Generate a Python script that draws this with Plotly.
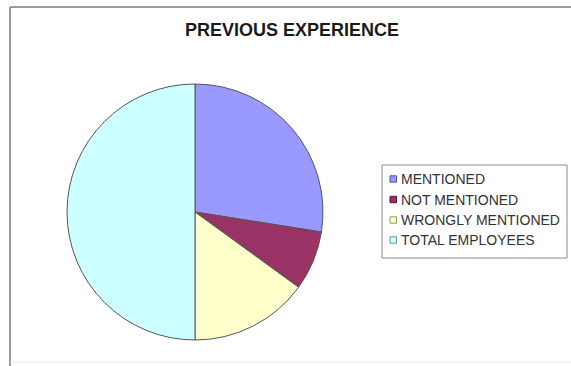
import plotly.graph_objects as go

labels = ["MENTIONED", "NOT MENTIONED", "WRONGLY MENTIONED", "TOTAL EMPLOYEES"]
values = [55, 15, 30, 100]
colors = ["#9999FF", "#993366", "#FFFFCC", "#CCFFFF"]
swatch_edges = ["#555599", "#551133", "#999966", "#669999"]

W, H = 571, 366
FONT = "Arial, Liberation Sans, sans-serif"


def px_x(x):
    return x / W


def px_y(y):
    return 1 - y / H


fig = go.Figure(
    go.Pie(
        labels=labels,
        values=values,
        sort=False,
        direction="clockwise",
        rotation=0,
        textinfo="none",
        hoverinfo="label+value+percent",
        showlegend=False,
        marker=dict(colors=colors, line=dict(color="#555555", width=1)),
        domain=dict(x=[px_x(67), px_x(323)], y=[px_y(340), px_y(84)]),
    )
)


def frame_line(x0, y0, x1, y1, color, width):
    return dict(
        type="line", xref="paper", yref="paper",
        x0=px_x(x0), y0=px_y(y0), x1=px_x(x1), y1=px_y(y1),
        line=dict(color=color, width=width), layer="below",
    )


shapes = [
    # chart area frame: left, top, faint bottom
    frame_line(10, 7, 10, 366, "#9a9a9a", 2),
    frame_line(10, 7, 571, 7, "#9a9a9a", 2),
    frame_line(10, 362, 571, 362, "#e6e6e6", 1),
    # legend box
    dict(
        type="rect", xref="paper", yref="paper",
        x0=px_x(382), x1=px_x(567), y0=px_y(258), y1=px_y(165),
        line=dict(color="#8a8a8a", width=1), fillcolor="white", layer="below",
    ),
]
annotations = []

# legend entries: small swatch plus label
row_y = [179, 199.5, 220, 240]
for lab, col, edge, yc in zip(labels, colors, swatch_edges, row_y):
    shapes.append(
        dict(
            type="rect", xref="paper", yref="paper",
            x0=px_x(390), x1=px_x(396.5), y0=px_y(yc + 3.2), y1=px_y(yc - 3.2),
            line=dict(color=edge, width=1), fillcolor=col,
        )
    )
    annotations.append(
        dict(
            text=lab, xref="paper", yref="paper",
            x=px_x(398.5), y=px_y(yc), xanchor="left", yanchor="middle",
            showarrow=False, font=dict(size=14, family=FONT, color="#333333"),
        )
    )

fig.update_layout(
    width=W,
    height=H,
    margin=dict(l=0, r=0, t=0, b=0),
    paper_bgcolor="white",
    plot_bgcolor="white",
    font=dict(family=FONT, color="#000000"),
    title=dict(
        text="<b>PREVIOUS EXPERIENCE</b>",
        x=px_x(292),
        xanchor="center",
        y=px_y(30),
        yanchor="middle",
        font=dict(size=18, family=FONT, color="#1a1a1a"),
    ),
    showlegend=False,
    shapes=shapes,
    annotations=annotations,
)

fig.write_html("out.html")
